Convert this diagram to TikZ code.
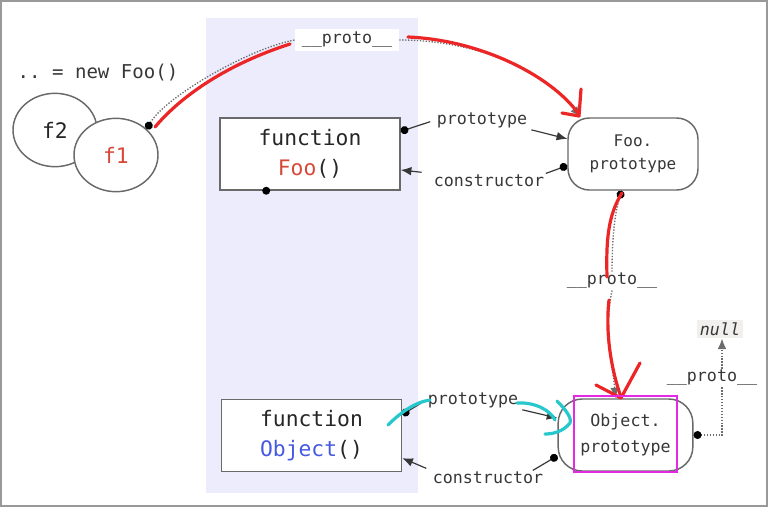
\documentclass[tikz,border=0pt]{standalone}
\usepackage{fontspec}
\setmonofont{DejaVu Sans Mono}
\usetikzlibrary{arrows.meta}
\usetikzlibrary{shapes.geometric}
\definecolor{lavender}{RGB}{236,236,252}
\definecolor{inkgray}{RGB}{55,55,55}
\definecolor{boxgray}{RGB}{105,105,105}
\definecolor{fooRed}{RGB}{214,72,58}
\definecolor{objBlue}{RGB}{70,90,225}
\definecolor{penRed}{RGB}{236,38,38}
\definecolor{penCyan}{RGB}{38,200,205}
\definecolor{penMagenta}{RGB}{228,40,228}
\definecolor{nullBg}{RGB}{242,240,237}
\tikzset{
	>={Latex[length=8pt,width=6.5pt]},
	fnbox/.style={
		rectangle,
		draw=boxgray, line width=1.1pt,
		fill=white,
		minimum width=135pt,
		minimum height=54pt,
		align=center,
		text=black!85,
		font=\ttfamily\fontsize{16}{22.5}\selectfont},
	protobox/.style={
		rectangle,
		rounded corners=16pt,
		draw=boxgray, line width=1.1pt,
		fill=white,
		minimum height=54pt,
		align=center,
		text=inkgray,
		font=\ttfamily\fontsize{12}{17.5}\selectfont},
	obj/.style={
		ellipse,
		draw=boxgray, line width=1.1pt,
		fill=white,
		minimum width=63pt,
		minimum height=55pt,
		text=black!85,
		font=\ttfamily\fontsize{16}{19}\selectfont},
	lbl/.style={font=\ttfamily\fontsize{12.5}{15}\selectfont, text=inkgray, inner sep=1pt},
	link/.style={draw=inkgray, line width=0.9pt},
	protolink/.style={draw=gray!85!black, line width=1pt, dash pattern=on 1pt off 1.2pt},
	dotted start/.style={{Circle[length=6pt,color=black]}-},
	pen/.style={line width=2.4pt, line cap=round, line join=round},
}

\begin{document}
\begin{tikzpicture}[x=0.75pt,y=-0.75pt]
	\useasboundingbox (0,0) rectangle (771,508);
	\draw[gray!80, line width=1.2pt] (1,1) rectangle (767,506);
	\fill[lavender] (206,18) rectangle (418,493);

	% objects made with new
	\node[font=\ttfamily\fontsize{14.3}{17}\selectfont, text=inkgray] (newFoo) at (98,73) {.. = new Foo()};
	\node[obj] (f2) at (55,130) {f2};
	\node[obj, text=fooRed] (f1) at (116,155) {f1};

	% constructors and prototypes
	\node[fnbox] (fooFn) at (310,154) {function\\\textcolor{fooRed}{Foo}()};
	\node[fnbox] (objFn) at (311.5,435.5) {function\\\textcolor{objBlue}{Object}()};
	\node[protobox, minimum width=97.5pt] (fooProto) at (633,154) {Foo.\\prototype};
	\node[protobox, minimum width=101pt, rounded corners=18pt, font=\ttfamily\fontsize{12.5}{19}\selectfont] (objProto) at (625.5,435) {Object.\\prototype};

	% labels
	\node[lbl, fill=white, minimum width=78pt, minimum height=16pt] (protoTop) at (347,40) {\_\_proto\_\_};
	\node[lbl] (fooPt) at (482,120) {prototype};
	\node[lbl] (fooCons) at (489,181) {constructor};
	\node[lbl] (midProto) at (612,281) {\_\_proto\_\_};
	\node[lbl] (objPt) at (473,400) {prototype};
	\node[lbl] (objCons) at (488,478) {constructor};
	\node[lbl] (nullProto) at (712,378) {\_\_proto\_\_};
	\node[lbl, fill=nullBg, inner sep=2pt, font=\ttfamily\itshape\fontsize{12.5}{15}\selectfont] (nul) at (720,329) {null};

	% __proto__ chain
	\draw[protolink, dotted start] (f1.40) .. controls +(18,-32) and +(-45,8) .. (protoTop.west);
	\draw[protolink, ->] (protoTop.east) .. controls +(80,0) and +(-35,-45) .. (fooProto.145);
	\draw[protolink, dotted start] (fooProto.253) .. controls +(-8,25) and +(0,-25) .. (midProto.north);
	\draw[protolink, ->] (midProto.south) .. controls +(-8,40) and +(-4,-40) .. (objProto.105);
	\draw[protolink, dotted start] (objProto.east) -| ([xshift=7.5pt]nullProto.south);
	\draw[protolink, ->] ([xshift=7.5pt]nullProto.north) -- ([xshift=7.5pt]nullProto.north |- nul.south);

	% prototype / constructor
	\draw[link, dotted start, shorten >=4pt] (fooFn.14) -- (fooPt.west);
	\draw[link, ->, shorten <=2pt] (fooPt.south east) -- (fooProto.167);
	\draw[link, dotted start] (fooProto.190) -- (fooCons.north east);
	\draw[link, ->, shorten <=8pt] (fooCons.north west) -- (fooFn.-10);
	\fill[black] (fooFn.220) circle[radius=3pt];
	\draw[link, dotted start, shorten >=4pt] (objFn.13) -- (objPt.west);
	\draw[link, ->, shorten <=2pt] (objPt.south east) -- (objProto.166);
	\draw[link, dotted start] (objProto.197) -- ([xshift=-9pt]objCons.north east);
	\draw[link, ->, shorten <=4pt] (objCons.north west) -- (objFn.-14);

	% hand-drawn marks
	\draw[penRed, pen] (155,127) .. controls (182,95) and (228,64) .. (290,44);
	\draw[penRed, pen] (408,37) .. controls (480,40) and (550,75) .. (578,113);
	\draw[penRed, pen] (581,89) -- (579,116) -- (562,113);
	\draw[penRed, pen] (622,193) .. controls (608,215) and (606,240) .. (607,277);
	\draw[penRed, pen] (609,300) .. controls (605,335) and (612,372) .. (621,397);
	\draw[penRed, pen] (596,385) -- (621,398) -- (640,363);
	\draw[penCyan, pen] (388,425) .. controls (400,413) and (415,402) .. (430,400);
	\draw[penCyan, pen] (517,403) .. controls (535,402) and (550,410) .. (555,420);
	\draw[penCyan, pen] (557,401) .. controls (566,410) and (572,418) .. (570,423) .. controls (563,432) and (552,434) .. (545,434);
	\draw[penMagenta, line width=2.2pt] (574,396) rectangle (677,472);
\end{tikzpicture}
\end{document}
